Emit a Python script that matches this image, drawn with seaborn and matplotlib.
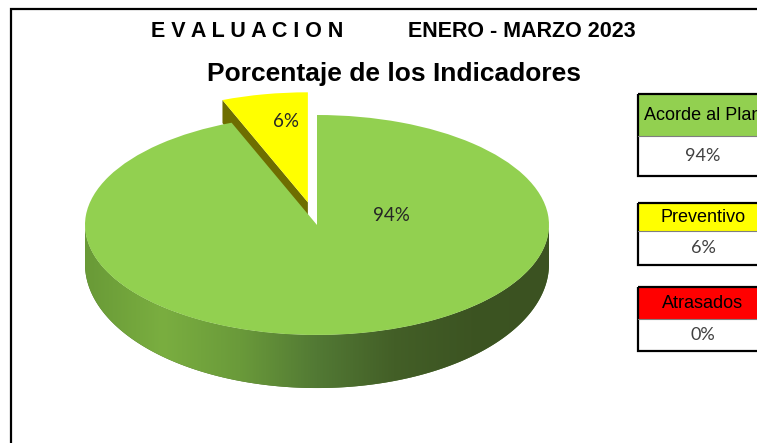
import numpy as np
import matplotlib.pyplot as plt
import matplotlib.colors as mcolors
from matplotlib.patches import Polygon, Rectangle
import seaborn as sns

# data
categories = ["Acorde al Plan", "Preventivo", "Atrasados"]
percent = [94, 6, 0]
slice_colors = ["#92D050", "#FFFF00", "#FF0000"]
explode = [0, 0.21, 0]

title_left = "E V A L U A C I O N"
title_right = "ENERO - MARZO 2023"
subtitle = "Porcentaje de los Indicadores"

sns.set_theme(style="white")
plt.rcParams["font.family"] = ["Liberation Sans", "DejaVu Sans"]

W, H = 757, 443
fig = plt.figure(figsize=(W / 100, H / 100), dpi=100)
ax = fig.add_axes([0, 0, 1, 1])

# pie placement (pixels): centre and semi axes of the tilted top
cx, cy, a, b = 317, 225, 232, 110
depth_px, persp = 39, 0.36


def depth(v):
    # thickness of the disc, a bit thinner at the back
    return depth_px * (1 - persp * v) / b


wedges, _ = ax.pie(percent, colors=slice_colors, startangle=90,
                   counterclock=False, explode=explode,
                   wedgeprops=dict(linewidth=0))

side_cmap = sns.blend_palette(["#699a37", "#7aae40", "#6a9a3a", "#527934",
                               "#435f27", "#3c5422", "#3b5221"], as_cmap=True)

for i, (w, val, col) in enumerate(zip(wedges, percent, slice_colors)):
    w.set_zorder(4 if i == 0 else 3)
    if val == 0:
        continue
    x0, y0 = w.center
    r = w.r
    # front rim of the slice
    t = np.radians(np.linspace(w.theta1, w.theta2, 600))
    t = t[np.sin(t) <= 0]
    if len(t) > 1:
        tx = x0 + r * np.cos(t)
        ty = y0 + r * np.sin(t)
        by = ty - depth(ty)
        pts = np.column_stack([np.r_[tx, tx[::-1]], np.r_[ty, by[::-1]]])
        rim = Polygon(pts, closed=True, fc="#4d6f2c", ec="none", zorder=2)
        ax.add_patch(rim)
        grad = np.linspace(0, 1, 256)[None, :]
        im = ax.imshow(grad, cmap=side_cmap, aspect="auto", zorder=2.5,
                       extent=(x0 - r, x0 + r, by.min(), ty.max()))
        im.set_clip_path(rim)
    # radial faces turned to the viewer
    dark = tuple(np.array(mcolors.to_rgb(col)) * 0.43)
    for theta, normal in ((w.theta1, w.theta1 - 90), (w.theta2, w.theta2 + 90)):
        if np.sin(np.radians(normal)) < -1e-6:
            ex = x0 + r * np.cos(np.radians(theta))
            ey = y0 + r * np.sin(np.radians(theta))
            face = [(x0, y0), (ex, ey), (ex, ey - depth(ey)), (x0, y0 - depth(y0))]
            ax.add_patch(Polygon(face, closed=True, fc=dark, ec="none", zorder=1))

# percentage labels on the slices
label_pos = [(0.319, 0.09), (-0.134, 0.945), None]
for val, pos in zip(percent, label_pos):
    if pos is None or val == 0:
        continue
    ax.text(pos[0], pos[1], f"{val}%", ha="center", va="center", zorder=6,
            fontsize=13.5, color="#262626", family=["Lato", "DejaVu Sans"])

ax.set_xlim(-cx / a, (W - cx) / a)
ax.set_ylim((cy - H) / b, cy / b)
ax.set_aspect("auto")
ax.axis("off")

# overlay in pixel units for titles, frame and legend boxes
ov = fig.add_axes([0, 0, 1, 1], zorder=5)
ov.set_xlim(0, W)
ov.set_ylim(H, 0)
ov.axis("off")
ov.patch.set_alpha(0)

ov.plot([11, 11, W], [H, 9, 9], color="black", lw=1.6,
        solid_joinstyle="miter", solid_capstyle="butt")

ov.text(247, 31, title_left, ha="center", va="center", fontsize=15.5,
        fontweight="bold", color="black")
ov.text(522, 31, title_right, ha="center", va="center", fontsize=15.5,
        fontweight="bold", color="black")
ov.text(394, 74, subtitle, ha="center", va="center", fontsize=19,
        fontweight="bold", color="black")

box_left, box_right = 638, 770
box_tops = [94, 203, 287]
head_h = [42, 28, 32]
body_h = [40, 34, 32]
for cat, val, col, top, hh, bh in zip(categories, percent, slice_colors,
                                      box_tops, head_h, body_h):
    wbox = box_right - box_left
    ov.add_patch(Rectangle((box_left, top), wbox, hh, fc=col, ec="none"))
    ov.add_patch(Rectangle((box_left, top + hh), wbox, bh, fc="white", ec="none"))
    ov.plot([box_left, box_right], [top + hh, top + hh], color="#7f7f7f", lw=0.8)
    ov.add_patch(Rectangle((box_left, top), wbox, hh + bh, fc="none",
                           ec="black", lw=1.6))
    ov.text(703, top + hh / 2, cat, ha="center", va="center", fontsize=13,
            color="black")
    ov.text(703, top + hh + bh / 2, f"{val}%", ha="center", va="center",
            fontsize=13, color="#404040", family=["Lato", "DejaVu Sans"])

fig.savefig("out.png", dpi=100)
